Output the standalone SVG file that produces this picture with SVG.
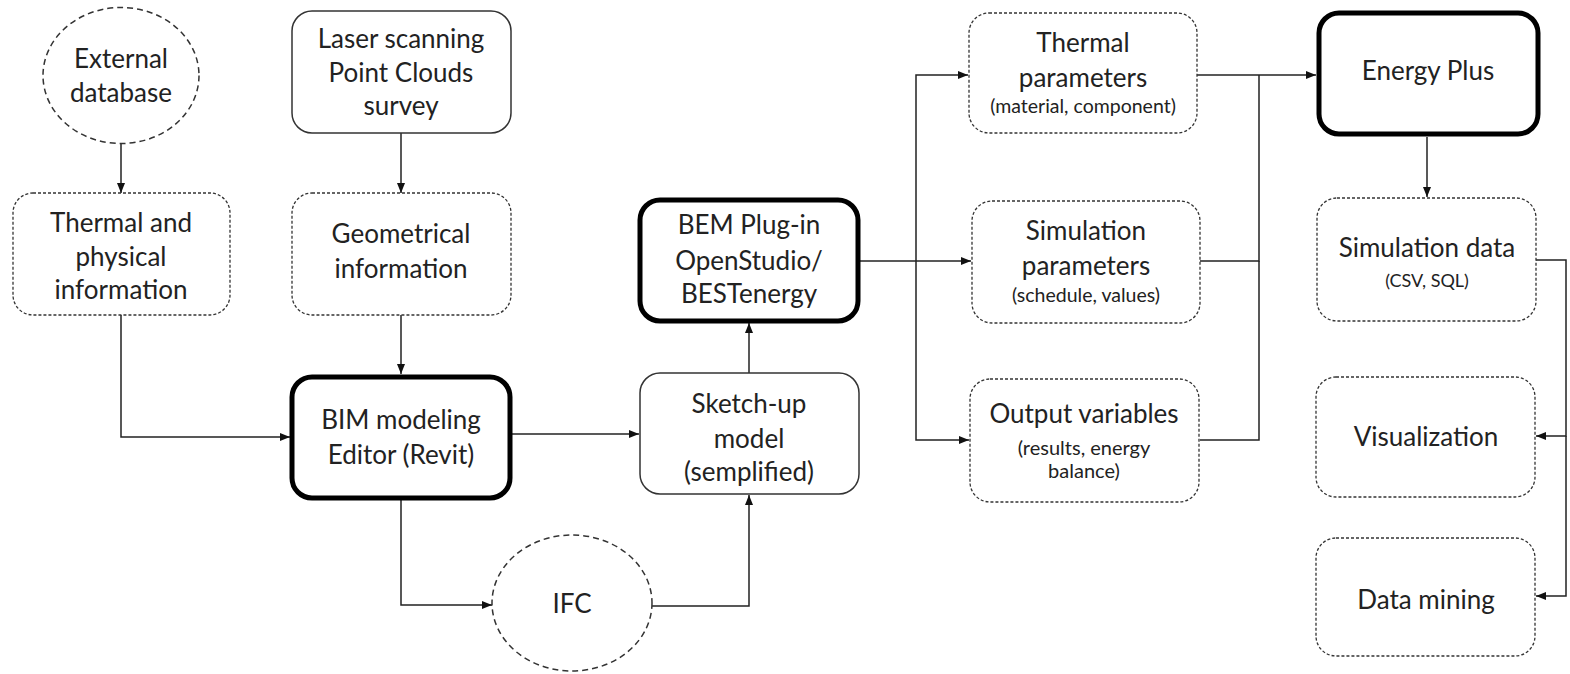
<svg xmlns="http://www.w3.org/2000/svg" width="1570" height="674" viewBox="0 0 1570 674">
<defs>
<marker id="ah" viewBox="0 0 10 8" refX="10" refY="4" markerWidth="10" markerHeight="8" markerUnits="userSpaceOnUse" orient="auto">
<path d="M0,0 L10,4 L0,8 z" fill="#111"/>
</marker>
</defs>
<style>
text{font-family:Lato,"Liberation Sans",sans-serif;fill:#222;text-anchor:middle}
.t{font-size:26px}
.s{font-size:19.5px}
.x{font-size:18px}
.m{font-size:20px}
.solid{fill:#fff;stroke:#333;stroke-width:1.5}
.thick{fill:#fff;stroke:#000;stroke-width:5}
.dash{fill:#fff;stroke:#333;stroke-width:1.3;stroke-dasharray:3 2}
.circ{fill:#fff;stroke:#333;stroke-width:1.5;stroke-dasharray:6 4}
.c{fill:none;stroke:#222;stroke-width:1.5}
.ca{fill:none;stroke:#222;stroke-width:1.5;marker-end:url(#ah)}
</style>
<rect width="1570" height="674" fill="#fff"/>
<g id="connectors">
<path class="ca" d="M121,144 V193"/>
<path class="ca" d="M401,133 V193"/>
<path class="ca" d="M121,315 V437 H290"/>
<path class="ca" d="M401,315 V374"/>
<path class="ca" d="M511,434 H639"/>
<path class="ca" d="M401,499 V605 H492"/>
<path class="ca" d="M652,606 H749 V495"/>
<path class="ca" d="M749,373 V323"/>
<path class="ca" d="M860,261 H971"/>
<path class="ca" d="M916,261 V75 H968"/>
<path class="ca" d="M916,261 V440 H969"/>
<path class="ca" d="M1197,75 H1316"/>
<path class="c" d="M1200,261 H1259 V75"/>
<path class="c" d="M1200,440 H1259 V261"/>
<path class="ca" d="M1427,137 V197"/>
<path class="ca" d="M1536,260 H1566 V436 H1536"/>
<path class="ca" d="M1566,436 V596 H1536"/>
</g>
<g id="external-database">
<ellipse class="circ" cx="121" cy="75.5" rx="78" ry="68"/>
<text class="t" x="121" y="68">External</text>
<text class="t" x="121" y="102">database</text>
</g>
<g id="laser-scanning">
<rect class="solid" x="292" y="11" width="219" height="122" rx="20"/>
<text class="t" x="401" y="48">Laser scanning</text>
<text class="t" x="401" y="82">Point Clouds</text>
<text class="t" x="401" y="115">survey</text>
</g>
<g id="thermal-physical">
<rect class="dash" x="13" y="193" width="217" height="122" rx="20"/>
<text class="t" x="121" y="232">Thermal and</text>
<text class="t" x="121" y="266">physical</text>
<text class="t" x="121" y="299">information</text>
</g>
<g id="geometrical">
<rect class="dash" x="292" y="193" width="219" height="122" rx="20"/>
<text class="t" x="401" y="243">Geometrical</text>
<text class="t" x="401" y="278">information</text>
</g>
<g id="bim">
<rect class="thick" x="292" y="377" width="218" height="121" rx="20"/>
<text class="t" x="401" y="429">BIM modeling</text>
<text class="t" x="401" y="464">Editor (Revit)</text>
</g>
<g id="ifc">
<ellipse class="circ" cx="572" cy="603" rx="80" ry="68"/>
<text class="t" x="572" y="613">IFC</text>
</g>
<g id="sketchup">
<rect class="solid" x="640" y="373" width="219" height="121" rx="20"/>
<text class="t" x="749" y="413">Sketch-up</text>
<text class="t" x="749" y="448">model</text>
<text class="t" x="749" y="481">(semplified)</text>
</g>
<g id="bem">
<rect class="thick" x="640" y="200" width="218" height="121" rx="20"/>
<text class="t" x="749" y="234">BEM Plug-in</text>
<text class="t" x="749" y="270">OpenStudio/</text>
<text class="t" x="749" y="303">BESTenergy</text>
</g>
<g id="thermal-parameters">
<rect class="dash" x="969" y="13" width="228" height="120" rx="20"/>
<text class="t" x="1083" y="52">Thermal</text>
<text class="t" x="1083" y="87">parameters</text>
<text class="s" x="1083" y="113">(material, component)</text>
</g>
<g id="simulation-parameters">
<rect class="dash" x="972" y="201" width="228" height="122" rx="20"/>
<text class="t" x="1086" y="240">Simulation</text>
<text class="t" x="1086" y="275">parameters</text>
<text class="s" x="1086" y="302">(schedule, values)</text>
</g>
<g id="output-variables">
<rect class="dash" x="970" y="379" width="229" height="123" rx="20"/>
<text class="t" x="1084" y="423">Output variables</text>
<text class="m" x="1084" y="455">(results, energy</text>
<text class="m" x="1084" y="478">balance)</text>
</g>
<g id="energy-plus">
<rect class="thick" x="1319" y="13" width="219" height="121" rx="20"/>
<text class="t" x="1428" y="80">Energy Plus</text>
</g>
<g id="simulation-data">
<rect class="dash" x="1317" y="198" width="219" height="123" rx="20"/>
<text class="t" x="1427" y="257">Simulation data</text>
<text class="x" x="1427" y="287">(CSV, SQL)</text>
</g>
<g id="visualization">
<rect class="dash" x="1316" y="377" width="219" height="120" rx="20"/>
<text class="t" x="1426" y="446">Visualization</text>
</g>
<g id="data-mining">
<rect class="dash" x="1316" y="538" width="219" height="118" rx="20"/>
<text class="t" x="1426" y="609">Data mining</text>
</g>
</svg>
